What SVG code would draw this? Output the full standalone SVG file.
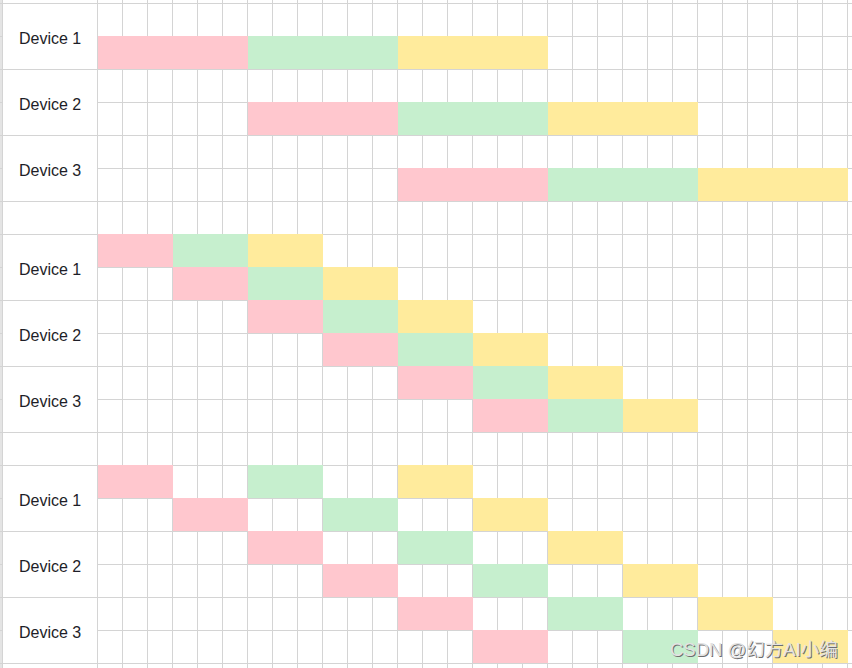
<svg xmlns="http://www.w3.org/2000/svg" width="852" height="668" viewBox="0 0 852 668">
<style>
.g{stroke:#d4d4d4;stroke-width:1;fill:none}
.p{fill:#ffc7ce}
.n{fill:#c6efce}
.y{fill:#ffeb9c}
.lbl{font-family:"Liberation Sans",Arial,sans-serif;font-size:16px;fill:#1e1e28}
.wm{font-family:"Liberation Sans","Noto Sans CJK SC",sans-serif;font-size:18.5px}
</style>
<rect x="0" y="0" width="852" height="668" fill="#ffffff"/>
<g id="grid">
<rect x="0" y="0" width="2" height="668" fill="#e4e4e4"/>
<path class="g" stroke="#a8a8a8" d="M2.5 0V668"/>
<path class="g" d="M97.5 0V668M122.5 0V668M147.5 0V668M172.5 0V668M197.5 0V668M222.5 0V668M247.5 0V668M272.5 0V668M297.5 0V668M322.5 0V668M347.5 0V668M372.5 0V668M397.5 0V668M422.5 0V668M447.5 0V668M472.5 0V668M497.5 0V668M522.5 0V668M547.5 0V668M572.5 0V668M597.5 0V668M622.5 0V668M647.5 0V668M672.5 0V668M697.5 0V668M722.5 0V668M747.5 0V668M772.5 0V668M797.5 0V668M822.5 0V668M847.5 0V668"/>
<path class="g" d="M0 3.5H852M0 69.5H852M0 135.5H852M0 201.5H852M0 234.5H852M0 300.5H852M0 366.5H852M0 432.5H852M0 465.5H852M0 531.5H852M0 597.5H852M0 663.5H852"/>
<path class="g" d="M97 36.5H852M97 102.5H852M97 168.5H852M97 267.5H852M97 333.5H852M97 399.5H852M97 498.5H852M97 564.5H852M97 630.5H852"/>
<path class="g" stroke="#b0b0b0" d="M0 36.5H3M0 102.5H3M0 168.5H3M0 267.5H3M0 333.5H3M0 399.5H3M0 498.5H3M0 564.5H3M0 630.5H3"/>
</g>
<g id="section1">
<g id="s1-device1">
<text class="lbl" x="19" y="44">Device 1</text>
<rect class="p" x="98" y="36" width="150" height="33"/>
<rect class="n" x="248" y="36" width="150" height="33"/>
<rect class="y" x="398" y="36" width="150" height="33"/>
</g>
<g id="s1-device2">
<text class="lbl" x="19" y="110">Device 2</text>
<rect class="p" x="248" y="102" width="150" height="33"/>
<rect class="n" x="398" y="102" width="150" height="33"/>
<rect class="y" x="548" y="102" width="150" height="33"/>
</g>
<g id="s1-device3">
<text class="lbl" x="19" y="176">Device 3</text>
<rect class="p" x="398" y="168" width="150" height="33"/>
<rect class="n" x="548" y="168" width="150" height="33"/>
<rect class="y" x="698" y="168" width="150" height="33"/>
</g>
</g>
<g id="section2">
<g id="s2-device1">
<text class="lbl" x="19" y="275">Device 1</text>
<rect class="p" x="98" y="234" width="75" height="33"/>
<rect class="n" x="173" y="234" width="75" height="33"/>
<rect class="y" x="248" y="234" width="75" height="33"/>
<rect class="p" x="173" y="267" width="75" height="33"/>
<rect class="n" x="248" y="267" width="75" height="33"/>
<rect class="y" x="323" y="267" width="75" height="33"/>
</g>
<g id="s2-device2">
<text class="lbl" x="19" y="341">Device 2</text>
<rect class="p" x="248" y="300" width="75" height="33"/>
<rect class="n" x="323" y="300" width="75" height="33"/>
<rect class="y" x="398" y="300" width="75" height="33"/>
<rect class="p" x="323" y="333" width="75" height="33"/>
<rect class="n" x="398" y="333" width="75" height="33"/>
<rect class="y" x="473" y="333" width="75" height="33"/>
</g>
<g id="s2-device3">
<text class="lbl" x="19" y="407">Device 3</text>
<rect class="p" x="398" y="366" width="75" height="33"/>
<rect class="n" x="473" y="366" width="75" height="33"/>
<rect class="y" x="548" y="366" width="75" height="33"/>
<rect class="p" x="473" y="399" width="75" height="33"/>
<rect class="n" x="548" y="399" width="75" height="33"/>
<rect class="y" x="623" y="399" width="75" height="33"/>
</g>
</g>
<g id="section3">
<g id="s3-device1">
<text class="lbl" x="19" y="506">Device 1</text>
<rect class="p" x="98" y="465" width="75" height="33"/>
<rect class="n" x="248" y="465" width="75" height="33"/>
<rect class="y" x="398" y="465" width="75" height="33"/>
<rect class="p" x="173" y="498" width="75" height="33"/>
<rect class="n" x="323" y="498" width="75" height="33"/>
<rect class="y" x="473" y="498" width="75" height="33"/>
</g>
<g id="s3-device2">
<text class="lbl" x="19" y="572">Device 2</text>
<rect class="p" x="248" y="531" width="75" height="33"/>
<rect class="n" x="398" y="531" width="75" height="33"/>
<rect class="y" x="548" y="531" width="75" height="33"/>
<rect class="p" x="323" y="564" width="75" height="33"/>
<rect class="n" x="473" y="564" width="75" height="33"/>
<rect class="y" x="623" y="564" width="75" height="33"/>
</g>
<g id="s3-device3">
<text class="lbl" x="19" y="638">Device 3</text>
<rect class="p" x="398" y="597" width="75" height="33"/>
<rect class="n" x="548" y="597" width="75" height="33"/>
<rect class="y" x="698" y="597" width="75" height="33"/>
<rect class="p" x="473" y="630" width="75" height="33"/>
<rect class="n" x="623" y="630" width="75" height="33"/>
<rect class="y" x="773" y="630" width="75" height="33"/>
</g>
</g>
<g id="watermark">
<text class="wm" x="671" y="657" fill="#6e6e6e">CSDN @幻方AI小编</text>
<text class="wm" x="670" y="656" fill="#e2e2e2">CSDN @幻方AI小编</text>
</g>
</svg>
